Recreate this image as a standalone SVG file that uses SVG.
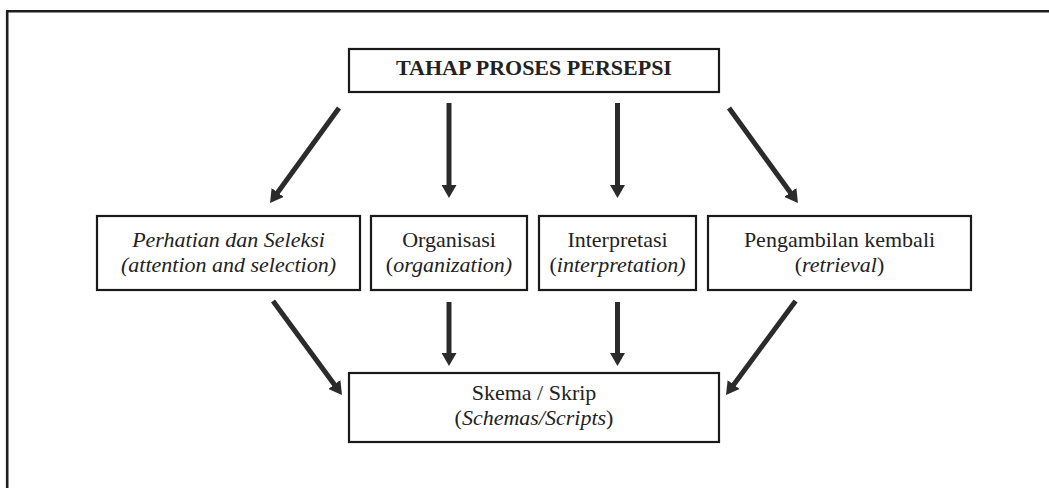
<svg xmlns="http://www.w3.org/2000/svg" width="1049" height="488" viewBox="0 0 1049 488">
<style>
.box{fill:#fff;stroke:#1a1a1a;stroke-width:2.2}
.t{font-family:"Liberation Serif","Times New Roman",serif;font-size:22px;fill:#222;text-anchor:middle}
.b{font-weight:bold}
.i{font-style:italic}
.n{font-style:normal}
.arr{stroke:#2b2b2b;stroke-width:5;fill:none;marker-end:url(#ah)}
</style>
<defs>
<marker id="ah" viewBox="0 0 13 15" markerWidth="13" markerHeight="15" refX="1" refY="7.5" orient="auto" markerUnits="userSpaceOnUse">
<path d="M0,0 L13,7.5 L0,15 z" fill="#2b2b2b"/>
</marker>
</defs>
<rect width="1049" height="488" fill="#fff"/>
<path d="M7.2,488 L7.2,11.2 L1049,11.2" fill="none" stroke="#1e1e1e" stroke-width="2.6"/>

<g id="top">
<rect class="box" x="349" y="49" width="370" height="43"/>
<text class="t b" x="534" y="75">TAHAP PROSES PERSEPSI</text>
</g>

<g id="perhatian">
<rect class="box" x="97" y="216" width="263" height="74"/>
<text class="t i" x="228.5" y="247">Perhatian dan Seleksi</text>
<text class="t i" x="228.5" y="272">(attention and selection)</text>
</g>

<g id="organisasi">
<rect class="box" x="371" y="216" width="156" height="74"/>
<text class="t" x="449" y="247">Organisasi</text>
<text class="t" x="449" y="272">(<tspan class="i">organization)</tspan></text>
</g>

<g id="interpretasi">
<rect class="box" x="539" y="216" width="157" height="74"/>
<text class="t" x="617.5" y="247">Interpretasi</text>
<text class="t" x="617.5" y="272">(<tspan class="i">interpretation)</tspan></text>
</g>

<g id="pengambilan">
<rect class="box" x="708" y="216" width="263" height="74"/>
<text class="t" x="839.5" y="247">Pengambilan kembali</text>
<text class="t" x="839.5" y="272">(<tspan class="i">retrieval</tspan>)</text>
</g>

<g id="skema">
<rect class="box" x="349" y="373" width="370" height="69"/>
<text class="t" x="534" y="400">Skema / Skrip</text>
<text class="t" x="534" y="425">(<tspan class="i">Schemas/Scripts</tspan>)</text>
</g>

<g id="connectors">
<line class="arr" x1="339" y1="108" x2="277.1" y2="193.3"/>
<line class="arr" x1="449" y1="103" x2="449" y2="186"/>
<line class="arr" x1="617.5" y1="103" x2="617.5" y2="186"/>
<line class="arr" x1="729" y1="108" x2="790.9" y2="193.3"/>
<line class="arr" x1="273" y1="301" x2="334.9" y2="385.3"/>
<line class="arr" x1="449" y1="302" x2="449" y2="354"/>
<line class="arr" x1="617.5" y1="302" x2="617.5" y2="354"/>
<line class="arr" x1="795.6" y1="301" x2="733.1" y2="385.4"/>
</g>
</svg>
